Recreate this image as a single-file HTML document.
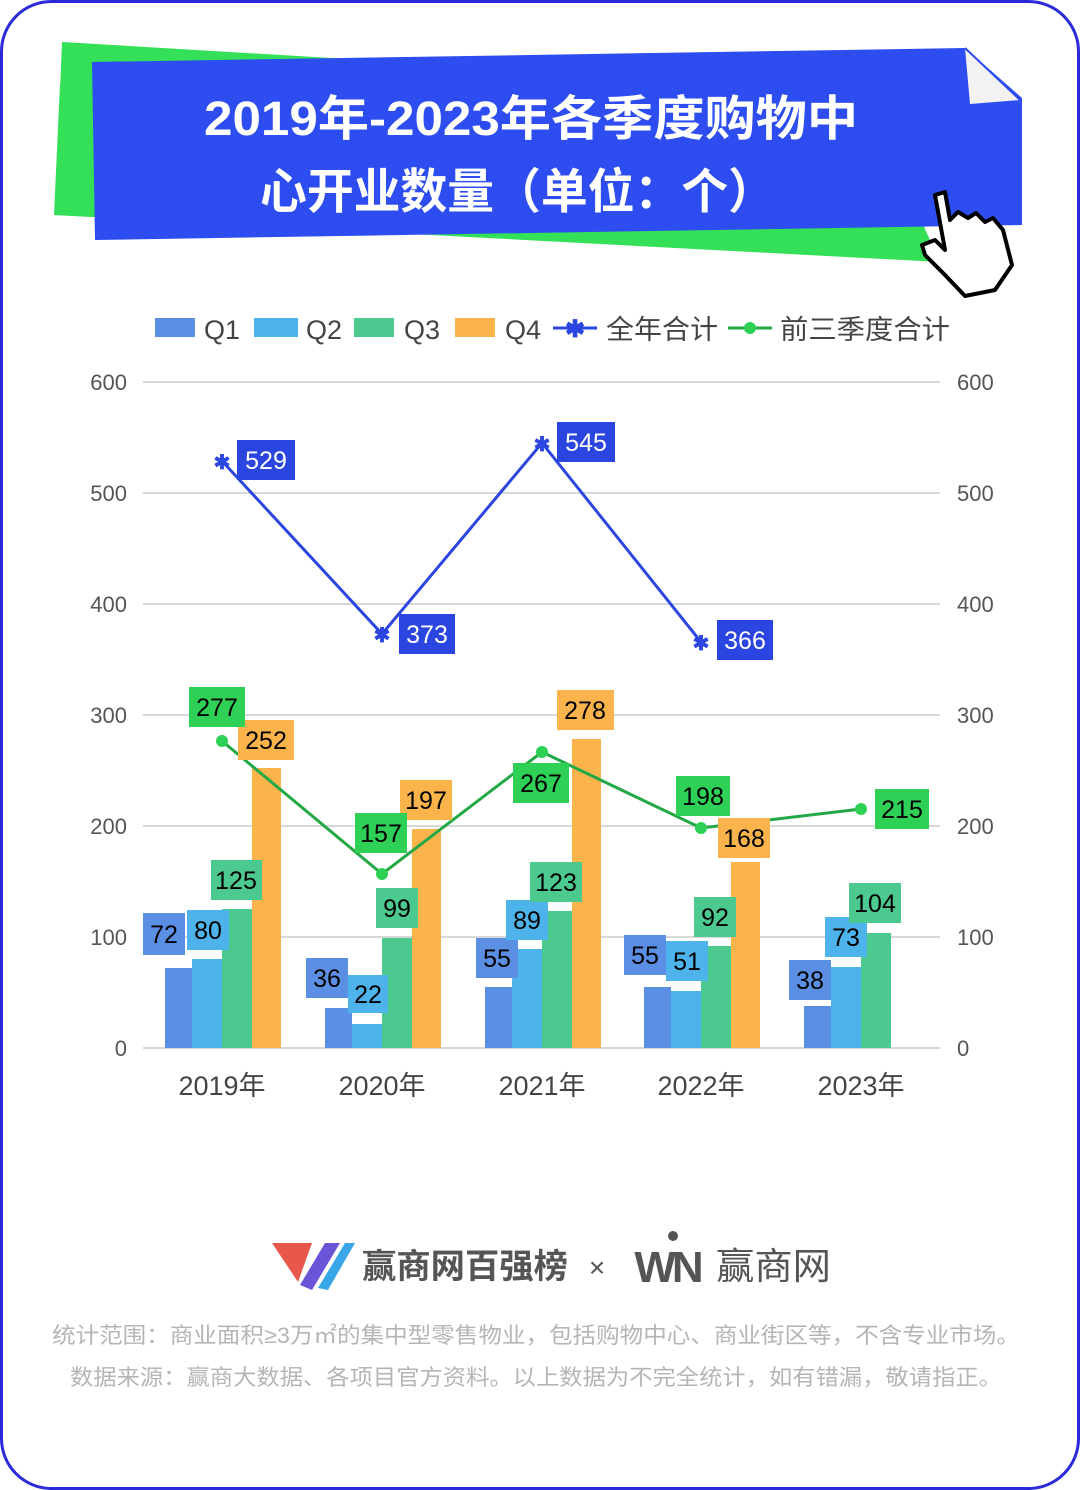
<!DOCTYPE html>
<html><head><meta charset="utf-8"><style>
html,body{margin:0;padding:0;background:#fff;}
body{width:1080px;height:1490px;overflow:hidden;}
svg{display:block;}
</style></head><body>
<svg width="1080" height="1490" viewBox="0 0 1080 1490" xmlns="http://www.w3.org/2000/svg" font-family="'Liberation Sans','Noto Sans CJK SC',sans-serif">
<rect x="1.5" y="1.5" width="1077" height="1487" rx="50" fill="#fff" stroke="#2a2ad8" stroke-width="3"/>
<polygon points="62,42 365,60 920,215 930,260 55,215" fill="#33e057"/>
<polygon points="60,84 920,218 940,262 54,215" fill="#33e057"/>
<polygon points="92,62 965,48 1022,98 1022,225 95,240" fill="#2d4df0"/>
<polygon points="965,48 1020,100 970,104" fill="#f2f2f2"/>
<polyline points="965,48 1020,100" stroke="#2d4df0" stroke-width="2" fill="none"/>
<text x="204" y="135" textLength="654" lengthAdjust="spacingAndGlyphs" font-size="48" font-weight="bold" fill="#fff">2019年-2023年各季度购物中</text>
<text x="260" y="208" textLength="515" lengthAdjust="spacingAndGlyphs" font-size="48" font-weight="bold" fill="#fff">心开业数量（单位：个）</text>
<path d="M935,195 L945,192 L950,220 L958,212 L968,218 L976,213 L985,222 L993,218 L1003,230 L1012,265 L995,290 L965,296 L945,275 L925,255 L922,245 L935,240 L945,250 Z" fill="#fff" stroke="#000" stroke-width="4" stroke-linejoin="round"/>
<g font-size="27" fill="#444">
<rect x="155" y="318" width="40" height="19" fill="#5b8fe3"/><text x="204" y="339">Q1</text>
<rect x="254" y="318" width="44" height="19" fill="#4db3ea"/><text x="306" y="339">Q2</text>
<rect x="354" y="318" width="40" height="19" fill="#4cc98f"/><text x="404" y="339">Q3</text>
<rect x="455" y="318" width="40" height="19" fill="#fbb44b"/><text x="505" y="339">Q4</text>
<line x1="553" y1="328" x2="597" y2="328" stroke="#2b45e0" stroke-width="3"/>
<text x="575" y="337" text-anchor="middle" font-size="24" fill="#2b45e0" font-weight="bold">✱</text>
<text x="606" y="339" textLength="112" lengthAdjust="spacingAndGlyphs">全年合计</text>
<line x1="728" y1="328" x2="772" y2="328" stroke="#22a845" stroke-width="3"/>
<circle cx="750" cy="328" r="6" fill="#2ed155"/>
<text x="780" y="339" textLength="170" lengthAdjust="spacingAndGlyphs">前三季度合计</text>
</g>
<g stroke="#d8d8d8" stroke-width="2">
<line x1="143" y1="382" x2="940" y2="382"/><line x1="143" y1="493" x2="940" y2="493"/>
<line x1="143" y1="604" x2="940" y2="604"/><line x1="143" y1="715" x2="940" y2="715"/>
<line x1="143" y1="826" x2="940" y2="826"/><line x1="143" y1="937" x2="940" y2="937"/>
<line x1="143" y1="1048" x2="940" y2="1048"/>
</g>
<g font-size="22" fill="#555" text-anchor="end">
<text x="127" y="390">600</text><text x="127" y="501">500</text><text x="127" y="612">400</text>
<text x="127" y="723">300</text><text x="127" y="834">200</text><text x="127" y="945">100</text><text x="127" y="1056">0</text>
</g>
<g font-size="22" fill="#555">
<text x="957" y="390">600</text><text x="957" y="501">500</text><text x="957" y="612">400</text>
<text x="957" y="723">300</text><text x="957" y="834">200</text><text x="957" y="945">100</text><text x="957" y="1056">0</text>
</g>
<g font-size="27" fill="#444" text-anchor="middle">
<text x="222" y="1095">2019年</text><text x="382" y="1095">2020年</text><text x="542" y="1095">2021年</text>
<text x="701" y="1095">2022年</text><text x="861" y="1095">2023年</text>
</g>
<g>
<rect x="165" y="968" width="27" height="80" fill="#5b8fe3"/><rect x="192" y="959" width="30" height="89" fill="#4db3ea"/><rect x="222" y="909" width="30" height="139" fill="#4cc98f"/><rect x="252" y="768" width="29" height="280" fill="#fbb44b"/>
<rect x="325" y="1008" width="27" height="40" fill="#5b8fe3"/><rect x="352" y="1024" width="30" height="24" fill="#4db3ea"/><rect x="382" y="938" width="30" height="110" fill="#4cc98f"/><rect x="412" y="829" width="29" height="219" fill="#fbb44b"/>
<rect x="485" y="987" width="27" height="61" fill="#5b8fe3"/><rect x="512" y="949" width="30" height="99" fill="#4db3ea"/><rect x="542" y="911" width="30" height="137" fill="#4cc98f"/><rect x="572" y="739" width="29" height="309" fill="#fbb44b"/>
<rect x="644" y="987" width="27" height="61" fill="#5b8fe3"/><rect x="671" y="991" width="30" height="57" fill="#4db3ea"/><rect x="701" y="946" width="30" height="102" fill="#4cc98f"/><rect x="731" y="862" width="29" height="186" fill="#fbb44b"/>
<rect x="804" y="1006" width="27" height="42" fill="#5b8fe3"/><rect x="831" y="967" width="30" height="81" fill="#4db3ea"/><rect x="861" y="933" width="30" height="115" fill="#4cc98f"/>
</g>
<polyline points="222,461 382,634 542,443 701,642" fill="none" stroke="#2b45e0" stroke-width="3"/>
<g font-size="20" fill="#2b45e0" text-anchor="middle" font-weight="bold">
<text x="222" y="469">✱</text><text x="382" y="642">✱</text><text x="542" y="451">✱</text><text x="701" y="650">✱</text>
</g>
<polyline points="222,741 382,874 542,752 701,828 861,809" fill="none" stroke="#22a845" stroke-width="3"/>
<g fill="#2ed155"><circle cx="222" cy="741" r="6"/><circle cx="382" cy="874" r="6"/><circle cx="542" cy="752" r="6"/><circle cx="701" cy="828" r="6"/><circle cx="861" cy="809" r="6"/></g>
<g font-size="25" text-anchor="middle">
<rect x="143" y="913" width="42" height="42" fill="#5b8fe3"/><text x="164" y="943">72</text>
<rect x="187" y="910" width="42" height="40" fill="#4db3ea"/><text x="208" y="939">80</text>
<rect x="211" y="860" width="51" height="40" fill="#4cc98f"/><text x="236" y="889">125</text>
<rect x="238" y="720" width="56" height="40" fill="#fbb44b"/><text x="266" y="749">252</text>
<rect x="189" y="687" width="56" height="40" fill="#2ed155"/><text x="217" y="716">277</text>
<rect x="237" y="440" width="58" height="40" fill="#2b45e0"/><text x="266" y="469" fill="#fff">529</text>
<rect x="306" y="958" width="42" height="40" fill="#5b8fe3"/><text x="327" y="987">36</text>
<rect x="348" y="975" width="40" height="38" fill="#4db3ea"/><text x="368" y="1003">22</text>
<rect x="376" y="888" width="42" height="40" fill="#4cc98f"/><text x="397" y="917">99</text>
<rect x="400" y="780" width="52" height="40" fill="#fbb44b"/><text x="426" y="809">197</text>
<rect x="355" y="813" width="52" height="40" fill="#2ed155"/><text x="381" y="842">157</text>
<rect x="399" y="614" width="56" height="40" fill="#2b45e0"/><text x="427" y="643" fill="#fff">373</text>
<rect x="476" y="938" width="42" height="40" fill="#5b8fe3"/><text x="497" y="967">55</text>
<rect x="506" y="900" width="42" height="40" fill="#4db3ea"/><text x="527" y="929">89</text>
<rect x="530" y="862" width="52" height="40" fill="#4cc98f"/><text x="556" y="891">123</text>
<rect x="557" y="690" width="57" height="40" fill="#fbb44b"/><text x="585" y="719">278</text>
<rect x="513" y="763" width="56" height="40" fill="#2ed155"/><text x="541" y="792">267</text>
<rect x="557" y="422" width="58" height="40" fill="#2b45e0"/><text x="586" y="451" fill="#fff">545</text>
<rect x="624" y="935" width="42" height="40" fill="#5b8fe3"/><text x="645" y="964">55</text>
<rect x="666" y="941" width="42" height="40" fill="#4db3ea"/><text x="687" y="970">51</text>
<rect x="694" y="897" width="42" height="40" fill="#4cc98f"/><text x="715" y="926">92</text>
<rect x="718" y="818" width="52" height="40" fill="#fbb44b"/><text x="744" y="847">168</text>
<rect x="676" y="776" width="54" height="40" fill="#2ed155"/><text x="703" y="805">198</text>
<rect x="717" y="620" width="56" height="40" fill="#2b45e0"/><text x="745" y="649" fill="#fff">366</text>
<rect x="789" y="960" width="42" height="40" fill="#5b8fe3"/><text x="810" y="989">38</text>
<rect x="825" y="917" width="42" height="40" fill="#4db3ea"/><text x="846" y="946">73</text>
<rect x="849" y="883" width="52" height="40" fill="#4cc98f"/><text x="875" y="912">104</text>
<rect x="875" y="789" width="54" height="40" fill="#2ed155"/><text x="902" y="818">215</text>
</g>
<polygon points="272,1243 312,1243 298,1282" fill="#e8584a"/>
<polygon points="300,1285 325,1243 340,1243 312,1290" fill="#6a55d8"/>
<polygon points="318,1288 345,1243 355,1243 328,1290" fill="#39a6e8"/>
<text x="362" y="1278" textLength="206" lengthAdjust="spacingAndGlyphs" font-size="34" font-weight="bold" fill="#555">赢商网百强榜</text>
<text x="597" y="1277" text-anchor="middle" font-size="28" fill="#555">×</text>
<text x="667" y="1282" text-anchor="middle" font-size="44" font-weight="bold" fill="#555" letter-spacing="-4">WN</text>
<circle cx="673" cy="1236" r="5" fill="#555"/>
<text x="716" y="1279" textLength="115" lengthAdjust="spacingAndGlyphs" font-size="37" fill="#555">赢商网</text>
<g font-size="22" fill="#b5b5b5">
<text x="52" y="1343" textLength="968" lengthAdjust="spacingAndGlyphs">统计范围：商业面积≥3万㎡的集中型零售物业，包括购物中心、商业街区等，不含专业市场。</text>
<text x="70" y="1385" textLength="932" lengthAdjust="spacingAndGlyphs">数据来源：赢商大数据、各项目官方资料。以上数据为不完全统计，如有错漏，敬请指正。</text>
</g>
</svg>
</body></html>
